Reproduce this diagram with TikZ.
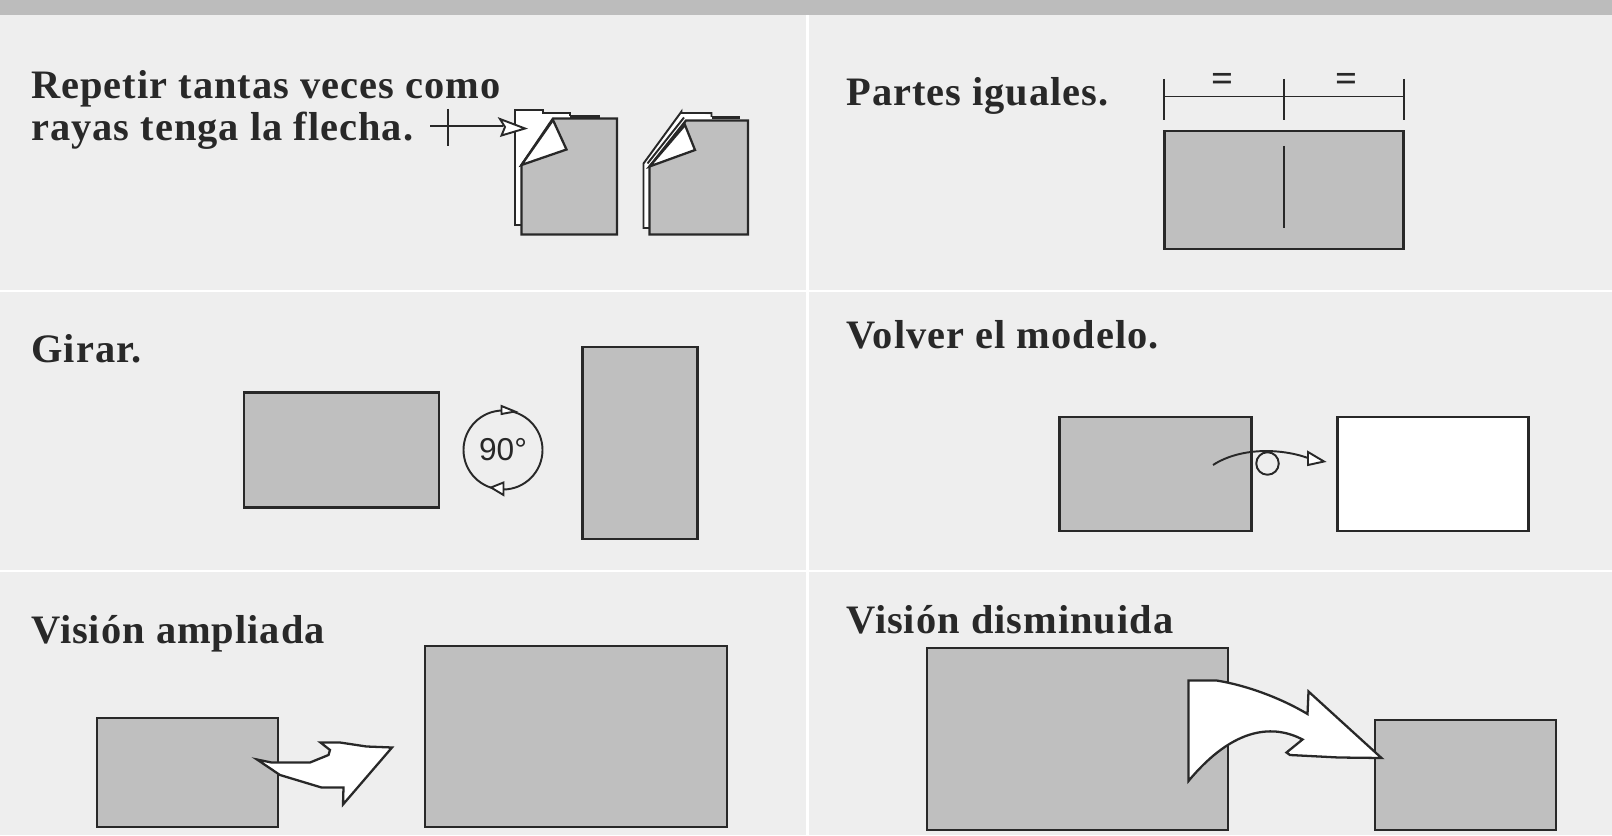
\documentclass[tikz,border=0pt]{standalone}
\usepackage{fontspec}
\setmainfont[LetterSpace=2.5]{Liberation Serif}
\setsansfont{Liberation Sans}
\usetikzlibrary{positioning}
\definecolor{panelgray}{RGB}{238,238,238}
\definecolor{bandgray}{RGB}{188,188,188}
\definecolor{sheetgray}{RGB}{191,191,191}
\definecolor{inkgray}{RGB}{40,40,40}
\tikzset{
  sheet/.style={draw=inkgray,fill=sheetgray,line width=1.3pt,inner sep=0pt},
  blank/.style={draw=inkgray,fill=white,line width=1.3pt,line join=miter},
  thinline/.style={draw=inkgray,line width=1.1pt},
  title/.style={anchor=base west,inner sep=0pt,text=inkgray,font=\fontsize{23}{28}\selectfont\bfseries}
}

\begin{document}
\begin{tikzpicture}
    \useasboundingbox (0,0) rectangle (32.24,16.7);
    % Background and grid
    \fill[panelgray] (0,0) rectangle (32.24,16.7);
    \fill[bandgray] (0,16.4) rectangle (32.24,16.7);
    \draw[white,line width=1.7pt] (16.14,0) -- (16.14,16.4);
    \draw[white,line width=1.7pt] (0,10.88) -- (32.24,10.88);
    \draw[white,line width=1.7pt] (0,5.28) -- (32.24,5.28);

    % Repetir
    \node[title] (repetir) at (0.62,14.72) {Repetir tantas veces como};
    \node[title] (rayas) at (0.62,13.88) {rayas tenga la flecha.};
    \fill[white] (10.30,12.20) -- (10.30,14.50) -- (10.86,14.50) -- (10.86,14.44) -- (11.40,14.44) -- (11.40,14.30) -- (10.43,12.2) -- cycle;
    \draw[thinline] (10.45,12.20) -- (10.30,12.20) -- (10.30,14.50) -- (10.86,14.50) -- (10.86,14.44) -- (11.40,14.44) -- (11.40,14.37);
    \draw[line width=1.8pt,inkgray] (11.40,14.37) -- (12.0,14.37);
    \draw[sheet] (10.43,12.01) -- (12.34,12.01) -- (12.34,14.33) -- (11.06,14.33) -- (10.43,13.40) -- cycle;
    \draw[blank] (10.43,13.40) -- (11.06,14.30) -- (11.33,13.71) -- cycle;
    \coordinate (tailA) at (8.60,14.18);
    \coordinate (headA) at (10.05,14.18);
    \draw[thinline] (tailA) -- (headA);
    \draw[thinline] (8.96,14.52) -- (8.96,13.78);
    \draw[blank,line width=1.1pt] (10.0,14.32) -- (10.50,14.13) -- (10.03,13.99) -- (10.1,14.16) -- cycle;

    % Repetir, second sheet
    \fill[white] (12.87,12.14) -- (12.87,13.43) -- (13.63,14.47) -- (14.23,14.40) -- (14.23,14.25) -- (13.0,12.14) -- cycle;
    \draw[thinline] (13.0,12.14) -- (12.87,12.14) -- (12.87,13.43) -- (13.63,14.47) -- (13.63,14.44) -- (14.23,14.44) -- (14.23,14.36);
    \draw[thinline] (12.95,13.43) -- (13.68,14.35);
    \draw[line width=1.8pt,inkgray] (14.23,14.35) -- (14.8,14.35);
    \draw[sheet] (12.99,12.01) -- (14.96,12.01) -- (14.96,14.29) -- (13.72,14.29) -- (12.99,13.37) -- cycle;
    \draw[blank] (12.99,13.37) -- (13.70,14.20) -- (13.90,13.70) -- cycle;

    % Partes iguales
    \node[title] (partes) at (16.92,14.58) {Partes iguales.};
    \node[sheet,minimum width=4.78cm,minimum height=2.35cm] (partesbox) at (25.68,12.90) {};
    \draw[thinline] (25.68,13.78) -- (25.68,12.14);
    \coordinate (dimL) at (23.28,14.77);
    \coordinate (dimM) at (25.68,14.77);
    \coordinate (dimR) at (28.08,14.77);
    \draw[thinline] (dimL) -- (dimR);
    \draw[thinline] (23.28,15.12) -- (23.28,14.30);
    \draw[thinline] (25.68,15.12) -- (25.68,14.30);
    \draw[thinline] (28.08,15.12) -- (28.08,14.30);
    \node[text=inkgray,inner sep=0pt,font=\fontsize{22}{22}\selectfont\bfseries] (eqL) at (24.46,15.06) {=};
    \node[text=inkgray,inner sep=0pt,font=\fontsize{22}{22}\selectfont\bfseries] (eqR) at (26.92,15.06) {=};

    % Girar
    \node[title] (girar) at (0.62,9.46) {Girar.};
    \node[sheet,minimum width=3.89cm,minimum height=2.30cm] (girarA) at (6.83,7.70) {};
    \node[sheet,minimum width=2.30cm,minimum height=3.85cm] (girarB) at (12.80,7.84) {};
    \node[circle,thinline,minimum size=1.58cm,inner sep=0pt,text=inkgray,font=\sffamily\fontsize{18}{18}\selectfont] (giro) at (10.06,7.70) {90°};
    \draw[blank,line width=1.1pt] (10.03,8.58) -- (10.30,8.47) -- (10.03,8.42) -- cycle;
    \draw[blank,line width=1.1pt] (10.07,7.05) -- (9.82,6.95) -- (10.07,6.80) -- cycle;

    % Volver
    \node[title] (volver) at (16.92,9.73) {Volver el modelo.};
    \node[sheet,minimum width=3.84cm,minimum height=2.28cm] (volverA) at (23.11,7.22) {};
    \node[blank,inner sep=0pt,minimum width=3.82cm,minimum height=2.28cm] (volverB) at (28.66,7.22) {};
    \node[circle,thinline,minimum size=0.45cm,inner sep=0pt] (volverO) at (25.35,7.43) {};
    \coordinate (tailV) at (24.26,7.40);
    \coordinate (headV) at (26.16,7.54);
    \draw[thinline] (tailV) .. controls (24.8,7.75) and (25.6,7.74) .. (headV);
    \draw[blank,line width=1.1pt] (26.16,7.66) -- (26.48,7.47) -- (26.16,7.40) -- cycle;

    % Vision ampliada
    \node[title] (ampliada) at (0.62,3.83) {Visión ampliada};
    \node[sheet,minimum width=3.62cm,minimum height=2.18cm] (ampA) at (3.75,1.25) {};
    \node[sheet,minimum width=6.03cm,minimum height=3.62cm] (ampB) at (11.52,1.97) {};
    \draw[blank] (5.14,1.51) -- (5.43,1.45) -- (6.20,1.45) -- (6.57,1.60) -- (6.60,1.70) -- (6.41,1.85) -- (6.80,1.85) -- (7.33,1.77) -- (7.84,1.75) -- (6.86,0.61) -- (6.87,0.95) -- (6.43,0.95) -- (5.60,1.20) -- cycle;

    % Vision disminuida
    \node[title] (disminuida) at (16.92,4.04) {Visión disminuida};
    \node[sheet,minimum width=6.03cm,minimum height=3.64cm] (disA) at (21.55,1.92) {};
    \node[sheet,minimum width=3.61cm,minimum height=2.20cm] (disB) at (29.31,1.20) {};
    \draw[blank] (23.77,3.09) -- (24.33,3.09) .. controls (24.9,3.0) and (25.6,2.75) .. (26.15,2.42) -- (26.17,2.87) -- (27.63,1.54) -- (26.77,1.55) -- (25.80,1.60) -- (25.73,1.65) -- (26.05,1.91) .. controls (25.5,2.2) and (24.7,2.2) .. (23.77,1.08) -- cycle;
\end{tikzpicture}
\end{document}
